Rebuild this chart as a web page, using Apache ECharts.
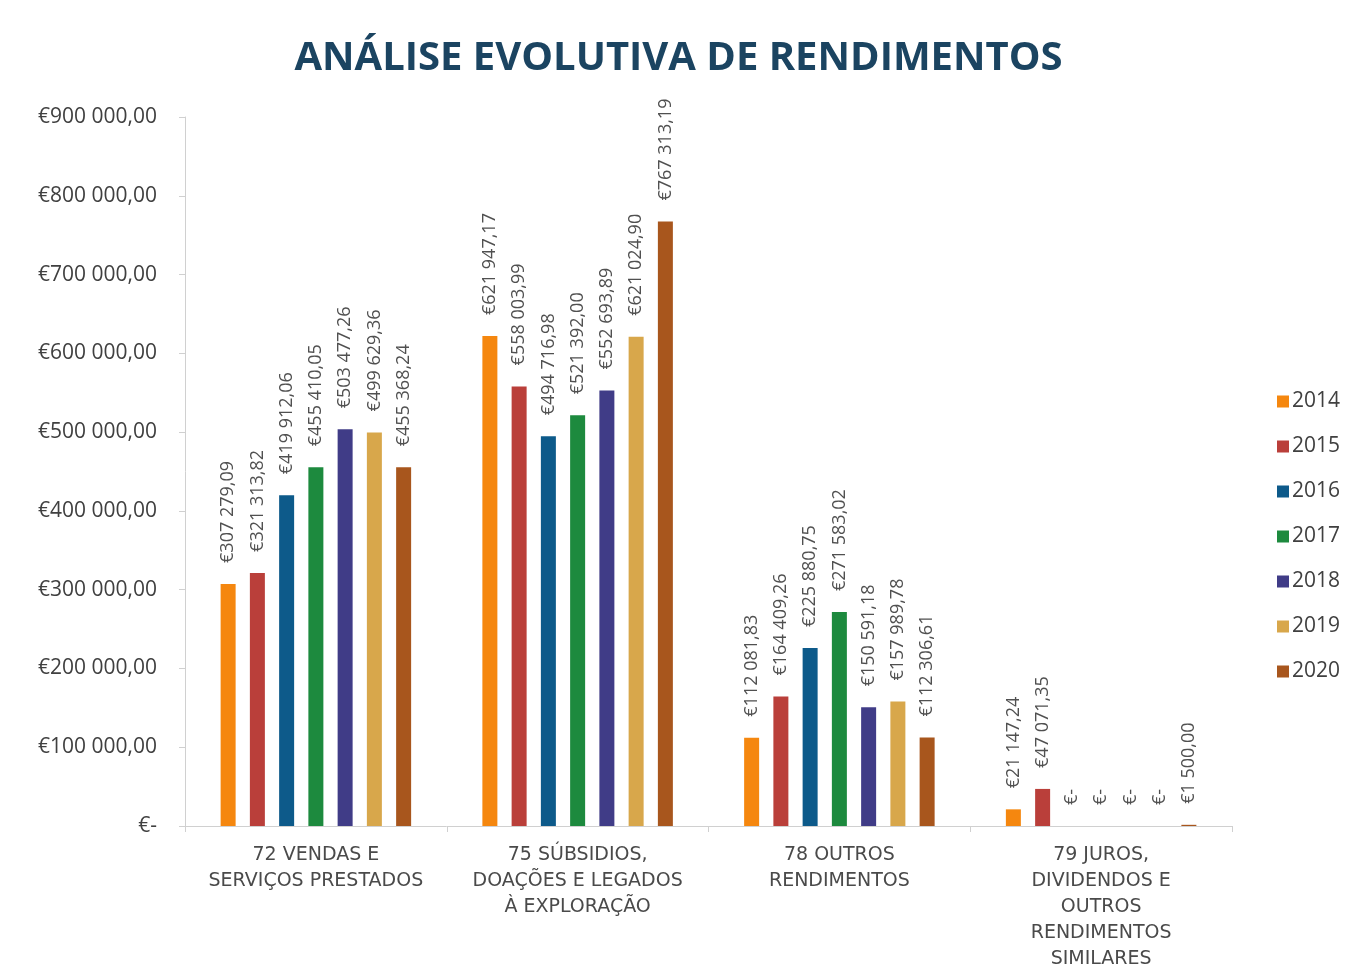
<!DOCTYPE html>
<html>
<head>
<meta charset="utf-8">
<script src="https://cdn.jsdelivr.net/npm/echarts@6/dist/echarts.min.js"></script>
<style>html,body{margin:0;padding:0;background:#fff;}#c{width:1357px;height:980px;}</style>
</head>
<body>
<div id="c"></div>
<script>
const categories = [
  '72 VENDAS E\nSERVIÇOS PRESTADOS',
  '75 SÚBSIDIOS,\nDOAÇÕES E LEGADOS\nÀ EXPLORAÇÃO',
  '78 OUTROS\nRENDIMENTOS',
  '79 JUROS,\nDIVIDENDOS E\nOUTROS\nRENDIMENTOS\nSIMILARES'
];
const years = ['2014','2015','2016','2017','2018','2019','2020'];
const s2014 = [307279.09, 621947.17, 112081.83, 21147.24];
const s2015 = [321313.82, 558003.99, 164409.26, 47071.35];
const s2016 = [419912.06, 494716.98, 225880.75, 0];
const s2017 = [455410.05, 521392.00, 271583.02, 0];
const s2018 = [503477.26, 552693.89, 150591.18, 0];
const s2019 = [499629.36, 621024.90, 157989.78, 0];
const s2020 = [455368.24, 767313.19, 112306.61, 1500.00];
const colors = ['#F5870F', '#BA3F3A', '#0D5A8A', '#1D8A3E', '#403C87', '#D8A74B', '#A8561D'];

const allSeries = [s2014, s2015, s2016, s2017, s2018, s2019, s2020];

function euro(v) {
  if (v === 0) return '€-';
  const parts = v.toFixed(2).split('.');
  return '€' + parts[0].replace(/\B(?=(\d{3})+(?!\d))/g, ' ') + ',' + parts[1];
}

const chart = echarts.init(document.getElementById('c'));
chart.setOption({
  backgroundColor: '#fff',
  color: colors,
  title: {
    text: 'ANÁLISE EVOLUTIVA DE RENDIMENTOS',
    left: 'center',
    top: 34,
    textStyle: { fontFamily: 'Open Sans', fontWeight: 'bold', fontSize: 40, color: '#1B4461' }
  },
  legend: {
    orient: 'vertical',
    left: 1272,
    top: 386,
    itemWidth: 12,
    itemHeight: 12,
    itemGap: 24,
    icon: 'rect',
    data: years,
    textStyle: { fontFamily: 'Open Sans', fontSize: 21, color: '#404040', padding: [0, 0, 0, -2] }
  },
  grid: { left: 185, right: 125, top: 117, bottom: 154, containLabel: false },
  xAxis: {
    type: 'category',
    data: categories,
    axisLine: { lineStyle: { color: '#D0D0D0', width: 1 } },
    axisTick: { show: true, length: 6, lineStyle: { color: '#D0D0D0' } },
    axisLabel: {
      interval: 0,
      fontFamily: 'DejaVu Sans',
      fontSize: 19,
      color: '#4A4A4A',
      lineHeight: 26,
      margin: 16
    }
  },
  yAxis: {
    type: 'value',
    min: 0,
    max: 900000,
    interval: 100000,
    axisLine: { show: true, lineStyle: { color: '#D0D0D0' } },
    axisTick: { show: true, length: 6, lineStyle: { color: '#D0D0D0' } },
    splitLine: { show: false },
    axisLabel: {
      fontFamily: 'Open Sans',
      fontSize: 21,
      color: '#404040',
      margin: 28,
      formatter: function (v) { return euro(v); }
    }
  },
  series: allSeries.map(function (d, i) {
    return {
      name: years[i],
      type: 'bar',
      data: d,
      barWidth: 15,
      barGap: '95%',
      itemStyle: { color: colors[i] },
      label: {
        show: true,
        position: 'top',
        rotate: 90,
        align: 'left',
        verticalAlign: 'middle',
        distance: 21,
        fontFamily: 'Open Sans',
        fontSize: 18,
        color: '#505050',
        formatter: function (p) { return euro(p.value); }
      }
    };
  })
});
</script>
</body>
</html>
